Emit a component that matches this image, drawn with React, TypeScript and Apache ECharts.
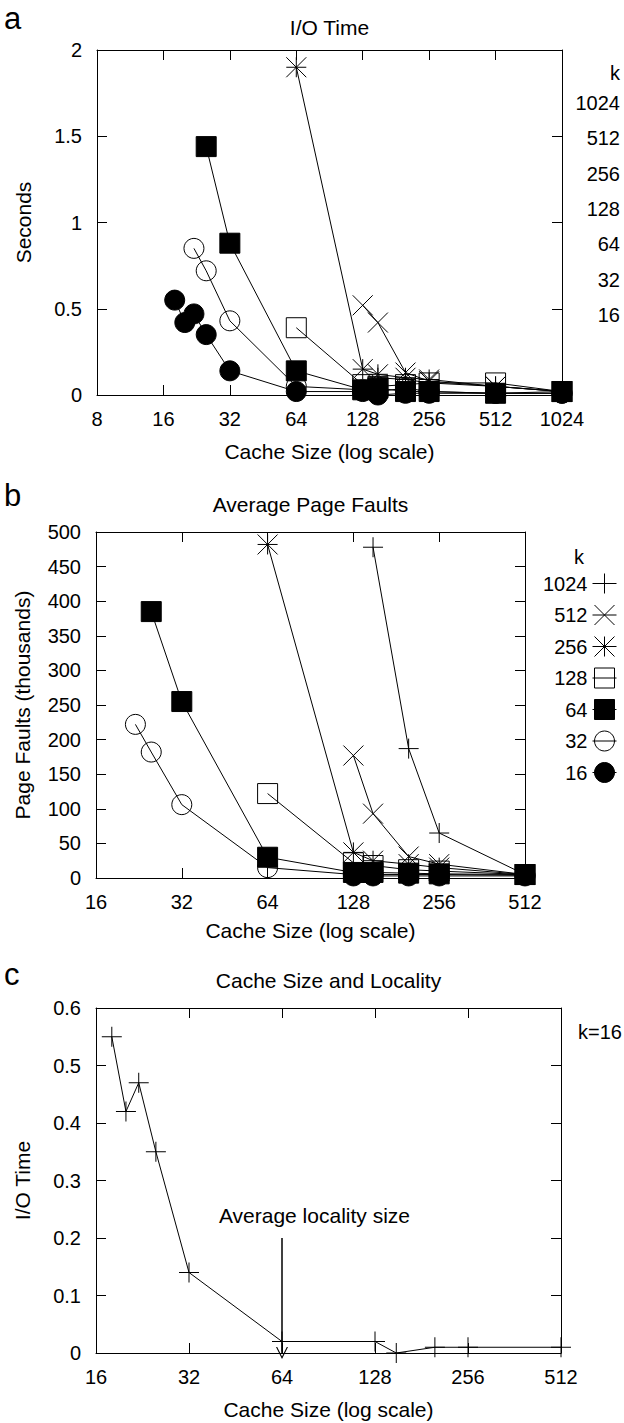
import React, { useEffect, useRef } from "react";
import * as echarts from "echarts";

const FONT = "'Liberation Sans', Arial, Helvetica, sans-serif";

// ---------- legend / k values ----------
const kValues = ["1024", "512", "256", "128", "64", "32", "16"];

// ---------- Panel a: I/O Time (seconds) ----------
const ioSizes1024 = [150, 200, 256, 512, 1024];
const ioTime1024 = [0.1, 0.09, 0.07, 0.05, 0.02];
const ioSizes512 = [128, 150, 200, 256, 512, 1024];
const ioTime512 = [0.52, 0.42, 0.13, 0.08, 0.05, 0.02];
const ioSizes256 = [64, 128, 150, 200, 256, 512, 1024];
const ioTime256 = [1.9, 0.15, 0.12, 0.1, 0.09, 0.05, 0.02];
const ioSizes128 = [64, 128, 150, 200, 256, 512, 1024];
const ioTime128 = [0.39, 0.06, 0.05, 0.06, 0.07, 0.07, 0.02];
const ioSizes64 = [25, 32, 64, 128, 150, 200, 256, 512, 1024];
const ioTime64 = [1.44, 0.88, 0.14, 0.03, 0.04, 0.02, 0.02, 0.01, 0.02];
const ioSizes32 = [22, 25, 32, 64, 128, 150, 200, 256, 512, 1024];
const ioTime32 = [0.85, 0.72, 0.43, 0.05, 0.03, 0.02, 0.04, 0.02, 0.01, 0.01];
const ioSizes16 = [18, 20, 22, 25, 32, 64, 128, 150, 200, 256, 512, 1024];
const ioTime16 = [0.55, 0.42, 0.47, 0.35, 0.14, 0.02, 0.02, 0.0, 0.01, 0.01, 0.01, 0.01];

// ---------- Panel b: Average Page Faults (thousands) ----------
const pfSizes1024 = [150, 200, 256, 512];
const pf1024 = [478, 187, 65, 5];
const pfSizes512 = [128, 150, 200, 256, 512];
const pf512 = [177, 93, 31, 20, 5];
const pfSizes256 = [64, 128, 150, 200, 256, 512];
const pf256 = [482, 37, 25, 20, 15, 5];
const pfSizes128 = [64, 128, 150, 200, 256, 512];
const pf128 = [122, 22, 18, 12, 10, 5];
const pfSizes64 = [25, 32, 64, 128, 150, 200, 256, 512];
const pf64 = [385, 255, 30, 8, 8, 7, 6, 5];
const pfSizes32 = [22, 25, 32, 64, 128, 150, 200, 256, 512];
const pf32 = [222, 182, 106, 15, 5, 5, 5, 5, 4];
const pfSizes16 = [128, 150, 200, 256, 512];
const pf16 = [3, 3, 3, 3, 3];

// ---------- Panel c: Cache Size and Locality (k=16) ----------
const locSizes = [18, 20, 22, 25, 32, 64, 128, 150, 200, 256, 512];
const locTime = [0.55, 0.42, 0.47, 0.35, 0.14, 0.02, 0.02, 0.0, 0.01, 0.01, 0.01];
const arrowFrom = [64, 0.2];
const arrowTo = [64, 0];
const annotationAt = [40, 0.24];
const annotationText = "Average locality size";

// axis tick values
const ioTicks = { min: 0, max: 2, interval: 0.5 };
const pfTicks = { min: 0, max: 500, interval: 50 };
const locTicks = { min: 0, max: 0.6, interval: 0.1 };

const SYMBOLS: Record<string, { symbol: string; filled: boolean }> = {
  "1024": { symbol: "path://M0,10L20,10M10,0L10,20", filled: false },
  "512": { symbol: "path://M0,0L20,20M20,0L0,20", filled: false },
  "256": { symbol: "path://M0,10L20,10M10,0L10,20M0,0L20,20M20,0L0,20", filled: false },
  "128": { symbol: "rect", filled: false },
  "64": { symbol: "rect", filled: true },
  "32": { symbol: "circle", filled: false },
  "16": { symbol: "circle", filled: true },
};

function mk(name: string, sizes: number[], vals: number[], xi: number, yi: number, symKey: string) {
  const s = SYMBOLS[symKey];
  return {
    type: "line",
    name,
    xAxisIndex: xi,
    yAxisIndex: yi,
    data: sizes.map((x, i) => [x, vals[i]]),
    symbol: s.symbol,
    symbolSize: 20,
    showAllSymbol: true,
    clip: false,
    lineStyle: { color: "#000", width: 1 },
    itemStyle: { color: s.filled ? "#000" : "transparent", borderColor: "#000", borderWidth: 1 },
    emphasis: { disabled: true },
    silent: true,
  };
}

const axisBase = {
  axisLine: { show: true, onZero: false, lineStyle: { color: "#000", width: 1 } },
  axisTick: { show: true, inside: true, length: 10, lineStyle: { color: "#000", width: 1 } },
  splitLine: { show: false },
};

function xLog(grid: number, min: number, max: number, nameGap: number) {
  return [
    {
      ...axisBase,
      type: "log",
      logBase: 2,
      gridIndex: grid,
      position: "bottom",
      min,
      max,
      name: "Cache Size (log scale)",
      nameLocation: "middle",
      nameGap,
      nameTextStyle: { fontSize: 21, color: "#000", fontFamily: FONT },
      axisLabel: {
        fontSize: 20,
        color: "#000",
        fontFamily: FONT,
        margin: 14,
        formatter: (v: number) => String(Math.round(v)),
      },
    },
    {
      ...axisBase,
      type: "log",
      logBase: 2,
      gridIndex: grid,
      position: "top",
      min,
      max,
      axisLabel: { show: false },
    },
  ];
}

function yVal(grid: number, t: { min: number; max: number; interval: number }, name: string, nameGap: number) {
  return [
    {
      ...axisBase,
      type: "value",
      gridIndex: grid,
      position: "left",
      min: t.min,
      max: t.max,
      interval: t.interval,
      name,
      nameLocation: "middle",
      nameGap,
      nameTextStyle: { fontSize: 21, color: "#000", fontFamily: FONT },
      axisLabel: { fontSize: 20, color: "#000", fontFamily: FONT, margin: 15 },
    },
    {
      ...axisBase,
      type: "value",
      gridIndex: grid,
      position: "right",
      min: t.min,
      max: t.max,
      interval: t.interval,
      axisLabel: { show: false },
    },
  ];
}

function txt(text: string, x: number, y: number, align: string, size = 20) {
  return {
    type: "text",
    x,
    y,
    silent: true,
    style: { text, fill: "#000", fontSize: size, fontFamily: FONT, align, verticalAlign: "middle" },
  };
}

export default function App() {
  const ref = useRef<HTMLDivElement>(null);

  useEffect(() => {
    document.body.style.margin = "0";
    if (!ref.current) return;
    const chart = echarts.init(ref.current, undefined, { renderer: "svg" });

    const graphic: any[] = [
      txt("a", 4, 18, "left", 31),
      txt("b", 4, 495, "left", 31),
      txt("c", 4, 974, "left", 31),
      txt("I/O Time", 329.5, 27, "center", 21),
      txt("Average Page Faults", 310.5, 504, "center", 21),
      txt("Cache Size and Locality", 328.5, 980, "center", 21),
      txt("k", 620, 73, "right"),
      ...kValues.map((k, i) => txt(k, 620, 103 + i * 35.3, "right")),
      txt("k", 584, 557, "right"),
      txt("k=16", 578, 1032, "left"),
    ];

    const chevron = "path://M0,20L10,0L20,20L18,20L10,4L2,20Z";

    chart.setOption({
      animation: false,
      textStyle: { fontFamily: FONT, color: "#000" },
      grid: [
        { left: 97, top: 50, width: 465, height: 345 },
        { left: 96, top: 532, width: 429, height: 346 },
        { left: 96, top: 1008, width: 465, height: 345 },
      ],
      xAxis: [...xLog(0, 8, 1024, 46), ...xLog(1, 16, 512, 42), ...xLog(2, 16, 512, 46)],
      yAxis: [
        ...yVal(0, ioTicks, "Seconds", 63),
        ...yVal(1, pfTicks, "Page Faults (thousands)", 63),
        ...yVal(2, locTicks, "I/O Time", 63),
      ],
      legend: {
        show: true,
        orient: "vertical",
        align: "right",
        right: 7,
        top: 573,
        padding: 0,
        itemGap: 10.5,
        itemWidth: 24,
        itemHeight: 25,
        selectedMode: false,
        textStyle: { fontSize: 20, color: "#000", fontFamily: FONT },
        itemStyle: { borderWidth: 1 },
        lineStyle: { width: 1, color: "#000" },
        data: kValues,
      },
      graphic,
      series: [
        mk("1024", ioSizes1024, ioTime1024, 0, 0, "1024"),
        mk("512", ioSizes512, ioTime512, 0, 0, "512"),
        mk("256", ioSizes256, ioTime256, 0, 0, "256"),
        mk("128", ioSizes128, ioTime128, 0, 0, "128"),
        mk("64", ioSizes64, ioTime64, 0, 0, "64"),
        mk("32", ioSizes32, ioTime32, 0, 0, "32"),
        mk("16", ioSizes16, ioTime16, 0, 0, "16"),

        mk("1024", pfSizes1024, pf1024, 2, 2, "1024"),
        mk("512", pfSizes512, pf512, 2, 2, "512"),
        mk("256", pfSizes256, pf256, 2, 2, "256"),
        mk("128", pfSizes128, pf128, 2, 2, "128"),
        mk("64", pfSizes64, pf64, 2, 2, "64"),
        mk("32", pfSizes32, pf32, 2, 2, "32"),
        mk("16", pfSizes16, pf16, 2, 2, "16"),

        {
          ...mk("k=16", locSizes, locTime, 4, 4, "1024"),
          markLine: {
            silent: true,
            symbol: ["none", chevron],
            symbolSize: [12, 12],
            label: { show: false },
            lineStyle: { color: "#000", width: 1.5, type: "solid" },
            emphasis: { disabled: true },
            data: [[{ coord: arrowFrom }, { coord: arrowTo }]],
          },
          markPoint: {
            silent: true,
            symbol: "circle",
            symbolSize: 0,
            data: [
              {
                coord: annotationAt,
                label: {
                  show: true,
                  position: "right",
                  distance: 0,
                  formatter: annotationText,
                  color: "#000",
                  fontSize: 21,
                  fontFamily: FONT,
                },
              },
            ],
          },
        },
      ],
    });

    return () => chart.dispose();
  }, []);

  return <div ref={ref} style={{ width: 624, height: 1423 }} />;
}
